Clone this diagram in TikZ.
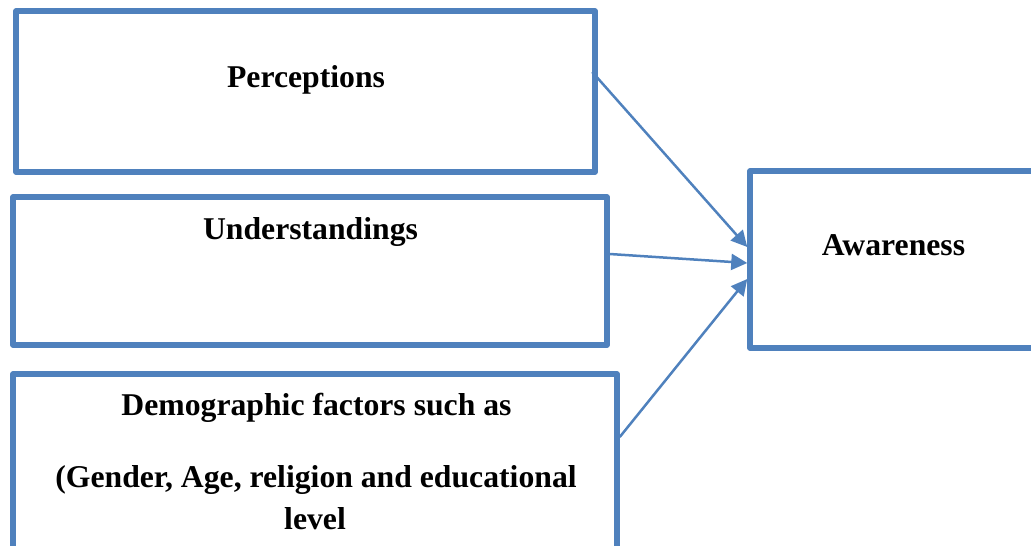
\documentclass[tikz,border=0pt]{standalone}
\usepackage{fontspec}
\setmainfont{Liberation Serif}
\usetikzlibrary{arrows.meta}
\definecolor{boxblue}{HTML}{4F81BD}
\begin{document}
\begin{tikzpicture}[x=1pt,y=-1pt,
  box/.style={draw=boxblue,line width=5.5pt,line join=round,minimum width=#1,inner sep=0pt},
  lbl/.style={anchor=base,inner sep=0pt,font=\fontsize{31.7}{38}\selectfont\bfseries},
  conn/.style={draw=boxblue,line width=2.5pt,-{Triangle[length=16pt,width=16pt]}}]
\useasboundingbox (0,0) rectangle (1031,546);
\clip (0,0) rectangle (1031,546);
\node[box=579pt,minimum height=161pt] (P) at (305.5,91.5) {};
\node[box=594pt,minimum height=148pt] (U) at (310,271) {};
\node[box=604pt,minimum height=226pt] (D) at (315,487) {};
\node[box=360pt,minimum height=177pt] (A) at (930,259.5) {};
\node[lbl] (tP) at (306,87.5) {Perceptions};
\node[lbl] (tU) at (310.5,239) {Understandings};
\node[lbl] (tA) at (893.5,255) {Awareness};
\node[lbl] (tD1) at (316.5,415) {Demographic factors such as};
\node[lbl] (tD2) at (316,487) {(Gender, Age, religion and educational};
\node[lbl] (tD3) at (315,529) {level};
\draw[conn] ([xshift=-5.5pt,yshift=19.5pt]P.east) -- ([yshift=12.5pt]A.west);
\draw[conn] ([yshift=17pt]U.east) -- ([yshift=-3.5pt]A.west);
\draw[conn] ([yshift=50pt]D.east) -- ([yshift=-19.5pt]A.west);
\end{tikzpicture}
\end{document}
